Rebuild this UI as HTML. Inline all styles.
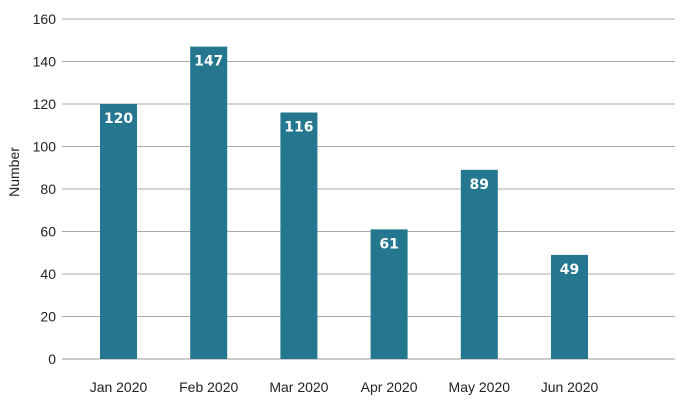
<!DOCTYPE html>
<html><head><meta charset="utf-8"><style>
body{margin:0;background:#fff;}
svg{display:block;font-family:"Liberation Sans Narrow","Liberation Sans",sans-serif;}
</style></head><body>
<svg id="chart" width="680" height="407" viewBox="0 0 680 407" xmlns="http://www.w3.org/2000/svg">
<g id="grid"></g>
<g id="yticks"></g>
<g id="bars"></g>
<g id="xticks"></g>
<text transform="translate(19,172) rotate(-90)" text-anchor="middle" font-size="14" fill="#222">Number</text>
</svg>
<script>
const categories = ["Jan 2020","Feb 2020","Mar 2020","Apr 2020","May 2020","Jun 2020"];
const values = [120,147,116,61,89,49];
const yTicks = [0,20,40,60,80,100,120,140,160];
const ns="http://www.w3.org/2000/svg";
const y0=359, yTop=19, yMax=160;
function yScale(v){return y0-(y0-yTop)*v/yMax;}
function xCenter(i){return 118.5+90.2*i;}
const bw=37;
function mk(tag,attrs,parent){const e=document.createElementNS(ns,tag);for(const k in attrs)e.setAttribute(k,attrs[k]);parent.appendChild(e);return e;}
const grid=document.getElementById('grid'),yt=document.getElementById('yticks'),bars=document.getElementById('bars'),xt=document.getElementById('xticks');
yTicks.forEach(t=>{
  const l=mk('line',{x1:62,x2:675,y1:yScale(t),y2:yScale(t),stroke:t===0?'#999':'#aaa','stroke-width':1},grid);
  
  
  const tx=mk('text',{x:56,y:yScale(t)+5,'text-anchor':'end','font-size':14,fill:'#222'},yt);
  tx.textContent=t;
  
  
});
values.forEach((v,i)=>{
  const r=mk('rect',{x:xCenter(i)-bw/2,y:yScale(v),width:bw,height:y0-yScale(v),fill:'#24778f'},bars);
  
  
  const lb=mk('text',{x:xCenter(i),y:yScale(v)+19,'text-anchor':'middle','font-size':14,'font-weight':'bold',fill:'#fff','font-family':'"DejaVu Sans",sans-serif'},bars);
  lb.textContent=v;
  
  
  const xl=mk('text',{x:xCenter(i),y:392,'text-anchor':'middle','font-size':14,fill:'#222'},xt);
  xl.textContent=categories[i];
  
  
});
</script>
</body></html>
